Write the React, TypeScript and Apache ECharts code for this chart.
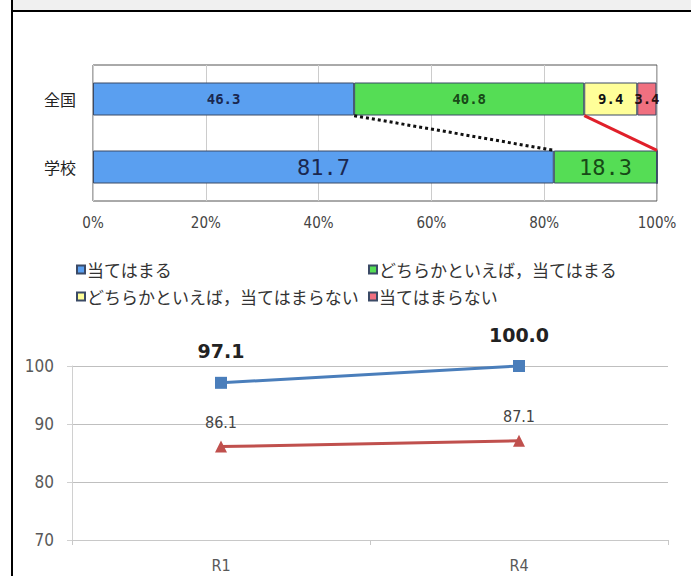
import React, { useEffect, useRef } from "react";
import * as echarts from "echarts";

const categories = ["全国", "学校"];
const answerNames = [
  "当てはまる",
  "どちらかといえば，当てはまる",
  "どちらかといえば，当てはまらない",
  "当てはまらない",
];
const nationalValues = [46.3, 40.8, 9.4, 3.4];
const schoolValues = [81.7, 18.3, 0, 0];
const percentTicks = [0, 20, 40, 60, 80, 100];

const trendCategories = ["R1", "R4"];
const schoolTrend = [97.1, 100.0];
const nationalTrend = [86.1, 87.1];

const barColors = ["#5a9ff0", "#55dd55", "#ffff99", "#f07080"];
const labelColors = ["#1a2850", "#174a17", "#111111", "#2a1010"];

const JP = "'Noto Sans CJK JP', sans-serif";
const MONO = "'DejaVu Sans Mono', monospace";
const NARROW = "'DejaVu Sans Condensed', 'Liberation Sans', sans-serif";

export default function App() {
  const ref = useRef<HTMLDivElement>(null);

  useEffect(() => {
    document.body.style.margin = "0";
    const chart = echarts.init(ref.current!, null, { renderer: "svg" });

    const cum = (arr: number[], n: number) =>
      arr.slice(0, n + 1).reduce((s, v) => s + v, 0);
    const connectors = [0, 1].map((i) => [
      +cum(nationalValues, i).toFixed(1),
      +cum(schoolValues, i).toFixed(1),
      0,
      i,
    ]);

    const barSeries = answerNames.map((name, si) => ({
      name,
      type: "bar",
      stack: "total",
      xAxisIndex: 0,
      yAxisIndex: 0,
      barWidth: 33,
      itemStyle: { color: barColors[si], borderColor: "#3b4a66", borderWidth: 1 },
      data: [nationalValues[si], schoolValues[si]].map((v, ci) => ({
        value: v,
        label: {
          show: v > 0,
          position: "inside",
          fontFamily: MONO,
          fontSize: ci === 0 ? 14 : 22,
          fontWeight: ci === 0 ? "bold" : "normal",
          color: labelColors[si],
          formatter: (p: any) => Number(p.value).toFixed(1),
        },
      })),
    }));

    const legendPos = [
      { left: 76, top: 261 },
      { left: 368, top: 261 },
      { left: 76, top: 288 },
      { left: 368, top: 288 },
    ];

    chart.setOption({
      animation: false,
      backgroundColor: "#ffffff",
      graphic: [
        { type: "rect", shape: { x: 13, y: 0, width: 678, height: 10 }, style: { fill: "#f0f0f0" } },
        { type: "line", shape: { x1: 12, y1: 0, x2: 12, y2: 576 }, style: { stroke: "#000", lineWidth: 2 } },
        { type: "line", shape: { x1: 12, y1: 11, x2: 691, y2: 11 }, style: { stroke: "#000", lineWidth: 2 } },
      ],
      legend: answerNames.map((name, i) => ({
        data: [{ name, icon: "rect" }],
        left: legendPos[i].left,
        top: legendPos[i].top,
        padding: 0,
        itemWidth: 8,
        itemHeight: 8,
        itemGap: 0,
        selectedMode: false,
        textStyle: { fontSize: 17, color: "#333", fontFamily: JP, padding: [0, 0, 0, -3] },
      })),
      grid: [
        { left: 93, right: 34, top: 65, height: 136, show: true, borderColor: "#555", borderWidth: 1, backgroundColor: "#fff" },
        { left: 72, right: 23, top: 366, bottom: 36 },
      ],
      xAxis: [
        {
          type: "value",
          gridIndex: 0,
          min: percentTicks[0],
          max: percentTicks[percentTicks.length - 1],
          interval: 20,
          axisLine: { show: false },
          axisTick: { show: false },
          splitLine: { show: true, lineStyle: { color: "#cccccc" } },
          axisLabel: { formatter: "{value}%", fontSize: 15, color: "#444", fontFamily: NARROW, margin: 14 },
        },
        {
          type: "category",
          gridIndex: 1,
          data: trendCategories,
          boundaryGap: true,
          axisLine: { show: true, lineStyle: { color: "#c8c8c8" } },
          axisTick: { show: true, length: 5, lineStyle: { color: "#c8c8c8" } },
          axisLabel: { fontSize: 16, color: "#595959", fontFamily: NARROW, margin: 17 },
        },
      ],
      yAxis: [
        {
          type: "category",
          gridIndex: 0,
          data: categories,
          inverse: true,
          axisLine: { show: false },
          axisTick: { show: false },
          axisLabel: { fontSize: 16, color: "#222", fontFamily: JP, margin: 17 },
        },
        {
          type: "value",
          gridIndex: 1,
          min: 70,
          max: 100,
          interval: 10,
          axisLine: { show: true, lineStyle: { color: "#d0d0d0" } },
          axisTick: { show: true, length: 5, lineStyle: { color: "#d0d0d0" } },
          splitLine: { show: true, lineStyle: { color: "#bfbfbf" } },
          axisLabel: { fontSize: 17, color: "#595959", fontFamily: NARROW, margin: 18 },
        },
      ],
      series: [
        ...barSeries,
        {
          name: "connectors",
          type: "custom",
          xAxisIndex: 0,
          yAxisIndex: 0,
          z: 10,
          encode: { x: [0, 1], y: 2 },
          data: connectors,
          renderItem: (params: any, api: any) => {
            const a = api.coord([api.value(0), 0]);
            const b = api.coord([api.value(1), 1]);
            const half = api.size([0, 1])[1] * 0.245;
            const dotted = api.value(3) === 0;
            return {
              type: "line",
              shape: { x1: a[0], y1: a[1] + half, x2: b[0], y2: b[1] - half },
              style: {
                stroke: dotted ? "#111" : "#e0202a",
                lineWidth: 3,
                lineDash: dotted ? [3, 3] : null,
              },
            };
          },
        },
        {
          name: "学校推移",
          type: "line",
          xAxisIndex: 1,
          yAxisIndex: 1,
          data: schoolTrend,
          symbol: "rect",
          symbolSize: 12,
          itemStyle: { color: "#4a7ebb" },
          lineStyle: { color: "#4a7ebb", width: 3 },
          label: {
            show: true,
            position: "top",
            distance: 16,
            fontSize: 19,
            fontWeight: "bold",
            color: "#222",
            fontFamily: "'DejaVu Sans', sans-serif",
            formatter: (p: any) => Number(p.value).toFixed(1),
          },
        },
        {
          name: "全国推移",
          type: "line",
          xAxisIndex: 1,
          yAxisIndex: 1,
          data: nationalTrend,
          symbol: "triangle",
          symbolSize: 12,
          itemStyle: { color: "#c0504d" },
          lineStyle: { color: "#c0504d", width: 3 },
          label: {
            show: true,
            position: "top",
            distance: 10,
            fontSize: 16,
            color: "#444",
            fontFamily: NARROW,
            formatter: (p: any) => Number(p.value).toFixed(1),
          },
        },
      ],
    });

    return () => chart.dispose();
  }, []);

  return <div ref={ref} style={{ width: 691, height: 576 }} />;
}
